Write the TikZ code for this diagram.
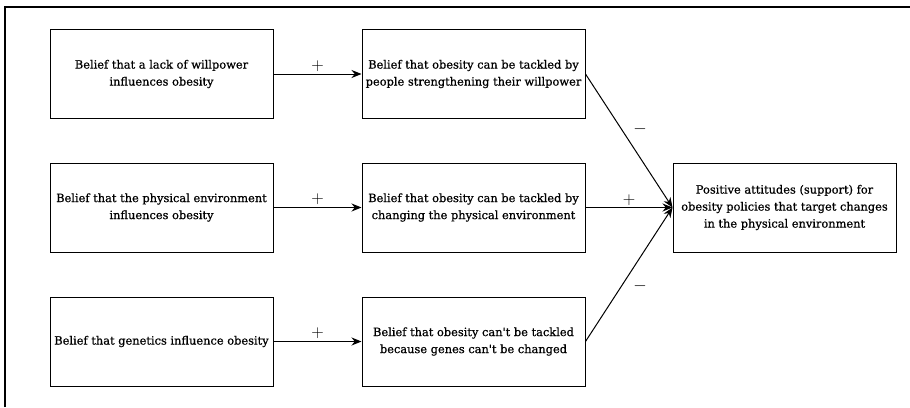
\documentclass[tikz,border=0pt]{standalone}
\usepackage{fontspec}
\setmainfont{DejaVu Serif}
\newfontfamily\boxfont[FakeBold=0.7]{DejaVu Serif}
\usetikzlibrary{arrows.meta}
\begin{document}
\begin{tikzpicture}[x=1pt,y=-1pt,
  box/.style={draw,line width=1pt,minimum width=223pt,minimum height=89pt,inner sep=2pt,
    align=center,font=\boxfont\fontsize{11.4}{17}\selectfont},
  conn/.style={line width=1pt,-{Stealth[length=10pt,width=8pt]}},
  sign/.style={font=\fontsize{17}{17}\selectfont}]
\useasboundingbox (0,0) rectangle (910,407);
\draw[line width=1.3pt] (5,407) |- (910,7);
\node[box] (a1) at (161.5,74) {Belief that a lack of willpower\\influences obesity};
\node[box] (a2) at (161.5,207.5) {Belief that the physical environment\\influences obesity};
\node[box] (a3) at (161.5,341.5) {Belief that genetics influence obesity};
\node[box] (b1) at (473.5,74) {Belief that obesity can be tackled by\\people strengthening their willpower};
\node[box] (b2) at (473.5,207.5) {Belief that obesity can be tackled by\\changing the physical environment};
\node[box] (b3) at (473.5,341.5) {Belief that obesity can't be tackled\\because genes can't be changed};
\node[box] (c) at (784.5,207.5) {Positive attitudes (support) for\\obesity policies that target changes\\in the physical environment};
\draw[conn] (a1) -- node[sign,above=-1pt]{$+$} (b1);
\draw[conn] (a2) -- node[sign,above=-1pt]{$+$} (b2);
\draw[conn] (a3) -- node[sign,above=-1pt]{$+$} (b3);
\draw[conn] (b1.east) -- (c.west);
\draw[conn] (b2.east) -- (c.west);
\draw[conn] (b3.east) -- (c.west);
\node[sign] (m1) at (640,129) {$-$};
\node[sign] (p2) at (629,200) {$+$};
\node[sign] (m3) at (640,286) {$-$};
\end{tikzpicture}
\end{document}
